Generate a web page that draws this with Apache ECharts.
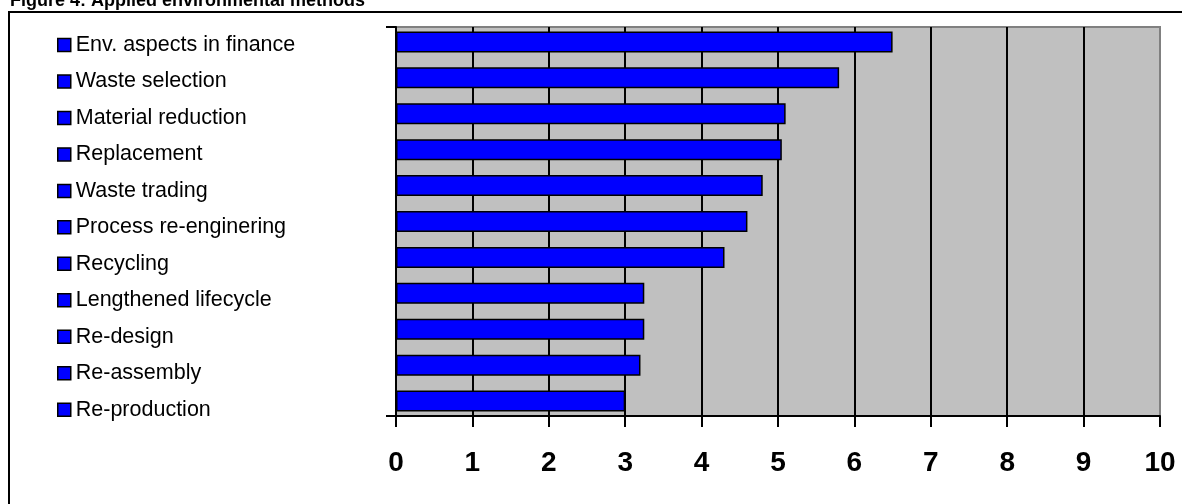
<!DOCTYPE html>
<html>
<head>
<meta charset="utf-8">
<title>Figure 4: Applied environmental methods</title>
<script src="https://cdn.jsdelivr.net/npm/echarts@6/dist/echarts.min.js"></script>
<style>
  html, body { margin: 0; padding: 0; background: #ffffff; }
  #chart { width: 1182px; height: 504px; }
</style>
</head>
<body>
<div id="chart"></div>
<script>
// Environmental methods, listed top to bottom
const methods = [
  'Env. aspects in finance',
  'Waste selection',
  'Material reduction',
  'Replacement',
  'Waste trading',
  'Process re-enginering',
  'Recycling',
  'Lengthened lifecycle',
  'Re-design',
  'Re-assembly',
  'Re-production'
];
// Score for each method
const scores = [6.5, 5.8, 5.1, 5.05, 4.8, 4.6, 4.3, 3.25, 3.25, 3.2, 3.0];
// Value axis range and step
const axisMin = 0;
const axisMax = 10;
const axisStep = 1;

const FONT = '"Liberation Sans", Arial, Helvetica, sans-serif';
const BAR_BLUE = '#0000FF';

// One series per method so the legend lists every method; all share a stack
// so each bar sits centred in its own category row.
const series = methods.map(function (name, i) {
  const data = methods.map(function (_, j) { return j === i ? scores[i] : null; });
  return {
    name: name,
    type: 'bar',
    stack: 'methods',
    xAxisIndex: 1,
    yAxisIndex: 1,
    barWidth: 21,
    data: data,
    itemStyle: { color: BAR_BLUE, borderColor: '#000000', borderWidth: 1.5 },
    emphasis: { disabled: true },
    z: 3
  };
});

const chart = echarts.init(document.getElementById('chart'), null, { renderer: 'canvas' });

chart.setOption({
  animation: false,
  backgroundColor: '#ffffff',
  title: {
    text: 'Figure 4: Applied environmental methods',
    left: 10,
    top: -8,
    padding: 0,
    textStyle: { fontFamily: FONT, fontSize: 18, fontWeight: 'bold', color: '#000000' }
  },
  graphic: [{
    type: 'rect',
    shape: { x: 9, y: 12, width: 1400, height: 800 },
    style: { fill: 'none', stroke: '#000000', lineWidth: 2 },
    silent: true,
    z: -1
  }],
  legend: {
    orient: 'vertical',
    left: 57,
    top: 34,
    itemWidth: 13,
    itemHeight: 13,
    itemGap: 14.47,
    padding: 0,
    icon: 'rect',
    selectedMode: false,
    data: methods,
    itemStyle: { color: BAR_BLUE, borderColor: '#000000', borderWidth: 1.5 },
    textStyle: { fontFamily: FONT, fontSize: 21.5, lineHeight: 21.5, color: '#000000' }
  },
  grid: [
    // plot frame: grey background, axes and gridlines
    {
      left: 396, right: 22, top: 27, bottom: 88,
      show: true,
      backgroundColor: '#C0C0C0',
      borderColor: '#808080',
      borderWidth: 2
    },
    // category rows holding the bars
    { left: 396, right: 22, top: 24, bottom: 85 }
  ],
  xAxis: [
    {
      gridIndex: 0,
      type: 'value',
      min: axisMin,
      max: axisMax,
      interval: axisStep,
      axisLine: { show: true, onZero: false, lineStyle: { color: '#000000', width: 2 } },
      axisTick: { show: true, inside: false, length: 11, lineStyle: { color: '#000000', width: 2 } },
      axisLabel: {
        margin: 33,
        fontFamily: FONT,
        fontSize: 28,
        fontWeight: 'bold',
        color: '#000000'
      },
      splitLine: {
        show: true,
        showMinLine: false,
        showMaxLine: false,
        lineStyle: { color: '#000000', width: 2 }
      }
    },
    {
      gridIndex: 1,
      type: 'value',
      min: axisMin,
      max: axisMax,
      show: false
    }
  ],
  yAxis: [
    {
      gridIndex: 0,
      type: 'value',
      min: 0,
      max: 1,
      interval: 1,
      axisLine: { show: true, onZero: false, lineStyle: { color: '#000000', width: 2 } },
      axisTick: { show: true, inside: false, length: 10, lineStyle: { color: '#000000', width: 2 } },
      axisLabel: { show: false },
      splitLine: { show: false }
    },
    {
      gridIndex: 1,
      type: 'category',
      inverse: true,
      data: methods,
      show: false
    }
  ],
  series: series
});
</script>
</body>
</html>
